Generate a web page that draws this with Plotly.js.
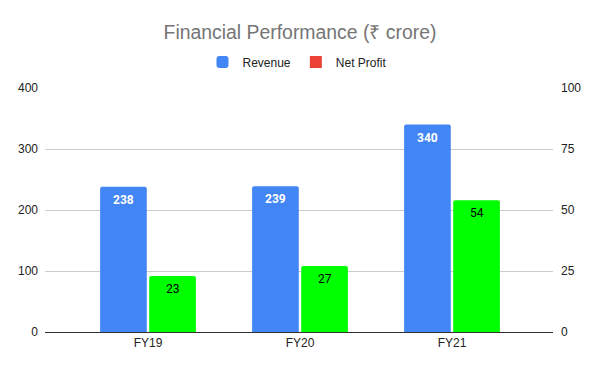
<!DOCTYPE html>
<html>
<head>
<meta charset="utf-8">
<script src="https://cdn.plot.ly/plotly-3.0.1.min.js"></script>
<style>html,body{margin:0;padding:0;background:#fff;}#chart{width:600px;height:371px;}</style>
</head>
<body>
<div id="chart"></div>
<script>
const categories = ['FY19', 'FY20', 'FY21'];
const revenue = [238, 239, 340];
const netProfit = [23, 27, 54];
const leftTicks = [0, 100, 200, 300, 400];
const rightTicks = [0, 25, 50, 75, 100];

const BLUE = '#4285F4', GREEN = '#00FF00', RED = '#EA4335';
const BW = 0.307;
const OFF_REV = -0.315, OFF_NP = 0.008;

const traces = [
  {
    type: 'bar', name: 'Revenue', x: categories, y: revenue, yaxis: 'y',
    width: BW, offset: OFF_REV,
    marker: {color: BLUE, cornerradius: 2, line: {width: 0}},
    hoverinfo: 'x+y'
  },
  {
    type: 'bar', name: 'Net Profit', x: categories, y: netProfit, yaxis: 'y2',
    width: BW, offset: OFF_NP, showlegend: false,
    marker: {color: GREEN, cornerradius: 2, line: {width: 0}},
    hoverinfo: 'x+y'
  },
  {
    type: 'bar', name: 'Net Profit', x: [categories[0]], y: [0], yaxis: 'y2',
    width: 0, offset: 0, showlegend: true, hoverinfo: 'skip',
    marker: {color: RED, line: {width: 0}}
  }
];

const annotations = [];
categories.forEach((c, i) => {
  annotations.push({
    x: i + OFF_REV + BW / 2, y: revenue[i], xref: 'x', yref: 'y',
    text: String(revenue[i]), showarrow: false, xanchor: 'center', yanchor: 'top',
    yshift: -4, font: {family: 'Roboto, sans-serif', size: 12, color: '#ffffff', weight: 'bold'}
  });
  annotations.push({
    x: i + OFF_NP + BW / 2, y: netProfit[i], xref: 'x', yref: 'y2',
    text: String(netProfit[i]), showarrow: false, xanchor: 'center', yanchor: 'top',
    yshift: -4, font: {family: 'Roboto, sans-serif', size: 12, color: '#000000'}
  });
});

const layout = {
  width: 600, height: 371,
  margin: {l: 45, r: 47, t: 88, b: 39, pad: 0},
  paper_bgcolor: '#ffffff', plot_bgcolor: '#ffffff',
  font: {family: '"Liberation Sans", Arial, sans-serif', size: 12, color: '#222222'},
  title: {
    text: 'Financial Performance (₹ crore)',
    font: {family: '"Liberation Sans", Arial, sans-serif', size: 19.4, color: '#757575'},
    x: 0.5, xanchor: 'center', xref: 'container',
    y: 1 - 32 / 371, yanchor: 'middle', yref: 'container'
  },
  barmode: 'overlay',
  showlegend: true,
  legend: {
    orientation: 'h', x: 0.497, xanchor: 'center', y: 1.107, yanchor: 'middle',
    font: {size: 12, color: '#222222'}, bgcolor: 'rgba(0,0,0,0)', itemclick: false
  },
  annotations: annotations,
  xaxis: {
    type: 'category', range: [-0.6776, 2.6645],
    showgrid: false, zeroline: false, showline: true, linecolor: '#333333', linewidth: 1,
    ticks: '', tickfont: {size: 12, color: '#222222'}, fixedrange: true
  },
  yaxis: {
    range: [0, 400], tickvals: leftTicks, ticktext: leftTicks.map(String),
    showgrid: true, gridcolor: '#cccccc', gridwidth: 1, zeroline: false, showline: false,
    ticks: '', ticklabelstandoff: 6, tickfont: {size: 12, color: '#222222'}, fixedrange: true
  },
  yaxis2: {
    range: [0, 100], tickvals: rightTicks, ticktext: rightTicks.map(String),
    overlaying: 'y', side: 'right', showgrid: false, zeroline: false, showline: false,
    ticks: '', ticklabelstandoff: 7, tickfont: {size: 12, color: '#222222'}, fixedrange: true
  }
};

Plotly.newPlot('chart', traces, layout, {displayModeBar: false, staticPlot: true});
</script>
</body>
</html>
